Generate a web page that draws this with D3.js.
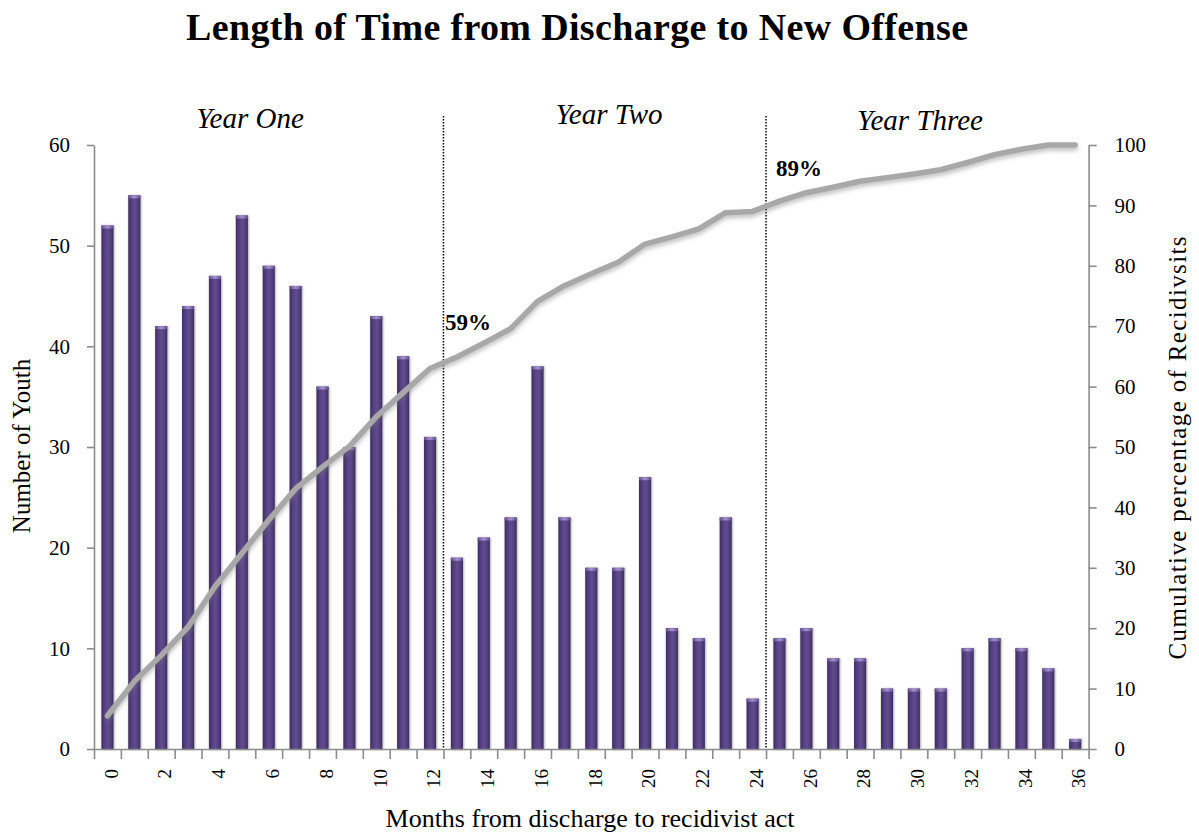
<!DOCTYPE html>
<html>
<head>
<meta charset="utf-8">
<script src="https://cdn.jsdelivr.net/npm/d3@7"></script>
<style>
  html, body { margin: 0; padding: 0; background: #fff; }
  svg { display: block; }
  text { font-family: "Liberation Serif", "DejaVu Serif", serif; fill: #000; }
</style>
</head>
<body>
<svg id="chart" width="1199" height="836"></svg>
<script>
// Months since discharge (one bar per month)
const months = [0,1,2,3,4,5,6,7,8,9,10,11,12,13,14,15,16,17,18,19,20,21,22,23,24,25,26,27,28,29,30,31,32,33,34,35,36];
// Number of youth committing a new offense in each month
const youthCounts = [52,55,42,44,47,53,48,46,36,30,43,39,31,19,21,23,38,23,18,18,27,12,11,23,5,11,12,9,9,6,6,6,10,11,10,8,1];
// Cumulative percentage of recidivists by month
const cumulativePct = [5.5,11.2,15.5,20.2,26.9,32.4,37.9,43.1,46.7,50.1,55.0,59,63.0,64.9,67.2,69.6,74.1,76.7,78.7,80.6,83.6,84.8,86.1,88.8,89,90.7,92.1,93.0,94.0,94.6,95.2,95.9,97.1,98.4,99.3,100,100];
// Tick values
const leftTicks = [0,10,20,30,40,50,60];
const rightTicks = [0,10,20,30,40,50,60,70,80,90,100];
const monthLabels = [0,2,4,6,8,10,12,14,16,18,20,22,24,26,28,30,32,34,36];
// Year boundaries (month index after which a new year begins) and callouts
const yearNames = ["Year One", "Year Two", "Year Three"];
const yearBreaks = [13, 25];
const callouts = [{ month: 11, label: "59%" }, { month: 24, label: "89%" }];

const svg = d3.select("#chart");
const plot = { left: 94, right: 1088.6, top: 145, bottom: 749 };

const x = d3.scaleLinear().domain([0, months.length]).range([plot.left, plot.right]);
const yLeft = d3.scaleLinear().domain([0, 60]).range([plot.bottom, plot.top]);
const yRight = d3.scaleLinear().domain([0, 100]).range([plot.bottom, plot.top]);
const band = x(1) - x(0);
const barW = band * 0.45;

// Definitions: bar gradient, cap highlight, soft shadows
const defs = svg.append("defs");
const grad = defs.append("linearGradient").attr("id", "barGrad").attr("x1", 0).attr("x2", 1).attr("y1", 0).attr("y2", 0);
grad.append("stop").attr("offset", "0%").attr("stop-color", "#3d2c5e");
grad.append("stop").attr("offset", "25%").attr("stop-color", "#543f80");
grad.append("stop").attr("offset", "55%").attr("stop-color", "#624c90");
grad.append("stop").attr("offset", "80%").attr("stop-color", "#523e7c");
grad.append("stop").attr("offset", "100%").attr("stop-color", "#3c2b5c");

const capGrad = defs.append("linearGradient").attr("id", "capGrad").attr("x1", 0).attr("x2", 1).attr("y1", 0).attr("y2", 0);
capGrad.append("stop").attr("offset", "0%").attr("stop-color", "#644f8e");
capGrad.append("stop").attr("offset", "50%").attr("stop-color", "#a592cf");
capGrad.append("stop").attr("offset", "100%").attr("stop-color", "#644f8e");

const barShadow = defs.append("filter").attr("id", "barShadow")
  .attr("x", "-60%").attr("y", "-10%").attr("width", "220%").attr("height", "120%");
barShadow.append("feDropShadow").attr("dx", 0.8).attr("dy", 0.5).attr("stdDeviation", 1.3)
  .attr("flood-color", "#555").attr("flood-opacity", 0.55);

const lineShadow = defs.append("filter").attr("id", "lineShadow")
  .attr("x", "-5%").attr("y", "-20%").attr("width", "110%").attr("height", "140%");
lineShadow.append("feDropShadow").attr("dx", 0).attr("dy", 3).attr("stdDeviation", 2.2)
  .attr("flood-color", "#777").attr("flood-opacity", 0.45);

// Title
svg.append("text")
  .attr("x", 577).attr("y", 40)
  .attr("text-anchor", "middle")
  .style("font-size", "38px").style("font-weight", "bold")
  .attr("textLength", 782).attr("lengthAdjust", "spacing")
  .text("Length of Time from Discharge to New Offense");

// Bars
const bars = svg.append("g").attr("filter", "url(#barShadow)");
const barData = months.map((m, i) => ({ m, v: youthCounts[i] }));
bars.selectAll("rect.bar").data(barData).join("rect")
  .attr("class", "bar")
  .attr("x", d => x(d.m + 0.5) - barW / 2)
  .attr("y", d => yLeft(d.v))
  .attr("width", barW)
  .attr("height", d => yLeft(0) - yLeft(d.v))
  .attr("fill", "url(#barGrad)");
bars.selectAll("rect.cap").data(barData).join("rect")
  .attr("class", "cap")
  .attr("x", d => x(d.m + 0.5) - barW / 2)
  .attr("y", d => yLeft(d.v))
  .attr("width", barW)
  .attr("height", 3)
  .attr("fill", "url(#capGrad)");

// Axes
const axisColor = "#8c8c8c";
function styleAxis(g) {
  g.selectAll("path.domain").attr("stroke", axisColor).attr("stroke-width", 1.6);
  g.selectAll(".tick line").attr("stroke", axisColor).attr("stroke-width", 1.6);
}

svg.append("g")
  .attr("transform", `translate(0,${plot.bottom})`)
  .call(d3.axisBottom(x).tickValues(d3.range(0, months.length + 1)).tickSize(10).tickSizeOuter(0).tickFormat(""))
  .call(styleAxis);

svg.append("g").selectAll("text").data(monthLabels).join("text")
  .attr("transform", d => `translate(${x(d + 0.5) + 4},${plot.bottom + 20}) rotate(-90)`)
  .attr("text-anchor", "end")
  .attr("dy", "0.33em")
  .style("font-size", "19px")
  .text(d => d);

const leftAxis = svg.append("g")
  .attr("transform", `translate(${plot.left},0)`)
  .call(d3.axisLeft(yLeft).tickValues(leftTicks).tickSize(7).tickSizeOuter(0).tickPadding(17))
  .call(styleAxis);
leftAxis.selectAll(".tick text").style("font-size", "21px").style("font-family", "Liberation Serif").attr("fill", "#000");

const rightAxis = svg.append("g")
  .attr("transform", `translate(${plot.right},0)`)
  .call(d3.axisRight(yRight).tickValues(rightTicks).tickSize(8).tickSizeOuter(0).tickPadding(18))
  .call(styleAxis);
rightAxis.selectAll(".tick text").style("font-size", "21px").style("font-family", "Liberation Serif").attr("fill", "#000");

// Year divider lines
svg.append("g").selectAll("line").data(yearBreaks).join("line")
  .attr("x1", d => x(d)).attr("x2", d => x(d))
  .attr("y1", 116).attr("y2", plot.bottom)
  .attr("stroke", "#000").attr("stroke-width", 1.5)
  .attr("stroke-dasharray", "1.5,1.5");

// Year headings
const yearPos = [{ x: 250, y: 128 }, { x: 609, y: 124 }, { x: 920, y: 130 }];
svg.append("g").selectAll("text").data(yearNames).join("text")
  .attr("x", (d, i) => yearPos[i].x).attr("y", (d, i) => yearPos[i].y)
  .attr("text-anchor", "middle")
  .style("font-size", "29px").style("font-style", "italic")
  .text(d => d);

// Cumulative line
const line = d3.line()
  .x((d, i) => x(months[i] + 0.5))
  .y(d => yRight(d));
svg.append("path")
  .datum(cumulativePct)
  .attr("d", line)
  .attr("fill", "none")
  .attr("stroke", "#a8a8a8")
  .attr("stroke-width", 5.5)
  .attr("stroke-linejoin", "round")
  .attr("stroke-linecap", "round")
  .attr("filter", "url(#lineShadow)");

// Callouts for cumulative share at each year end
const calloutPos = [{ x: 445, y: 330 }, { x: 776, y: 176 }];
svg.append("g").selectAll("text").data(callouts).join("text")
  .attr("x", (d, i) => calloutPos[i].x).attr("y", (d, i) => calloutPos[i].y)
  .style("font-size", "23px").style("font-weight", "bold")
  .text(d => d.label);

// Axis titles
svg.append("text")
  .attr("transform", "translate(30,446) rotate(-90)")
  .attr("text-anchor", "middle")
  .style("font-size", "25px")
  .text("Number of Youth");

svg.append("text")
  .attr("transform", "translate(1186,448) rotate(-90)")
  .attr("text-anchor", "middle")
  .style("font-size", "25px")
  .attr("textLength", 423).attr("lengthAdjust", "spacing")
  .text("Cumulative percentage of Recidivsits");

svg.append("text")
  .attr("x", 590).attr("y", 827)
  .attr("text-anchor", "middle")
  .style("font-size", "26px")
  .text("Months from discharge to recidivist act");
</script>
</body>
</html>
